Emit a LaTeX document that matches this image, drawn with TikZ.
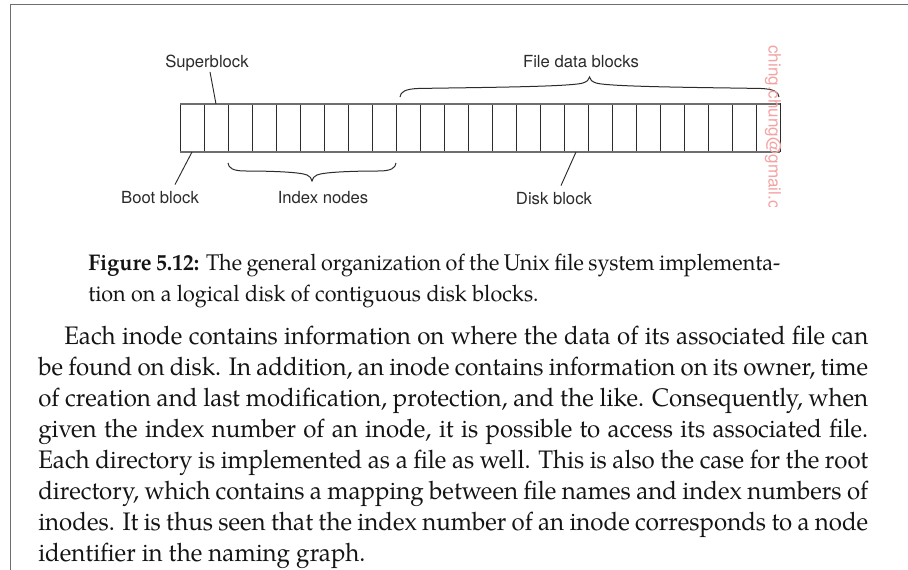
\documentclass[tikz,border=0pt]{standalone}
\usepackage{fontspec}
\setmainfont[FakeStretch=0.95]{TeX Gyre Pagella}
\newfontfamily\labfont{TeX Gyre Heros}
\usetikzlibrary{calc}
\definecolor{framegray}{HTML}{6E6E6E}
\definecolor{ink}{HTML}{2B2B2B}
\definecolor{wmark}{HTML}{F3A3A3}
\definecolor{bodyink}{HTML}{141414}
\begin{document}
\begin{tikzpicture}[x=0.75pt,y=-0.75pt,
  lab/.style={font=\labfont\fontsize{12.5pt}{14pt}\selectfont, text=ink, inner sep=0pt, anchor=base},
  cell/.style={draw=ink, line width=0.75pt, minimum width=18pt, minimum height=36pt, inner sep=0pt, outer sep=0pt},
  leader/.style={draw=ink, line width=0.7pt},
  bracepath/.style={draw=ink, line width=0.75pt},
  txt/.style={font=\fontsize{19pt}{24pt}\selectfont, inner sep=0pt, anchor=base west, text=bodyink},
  captxt/.style={font=\fontsize{17pt}{22pt}\selectfont, inner sep=0pt, anchor=base west, text=bodyink},
  wm/.style={font=\labfont\fontsize{12.8pt}{14pt}\selectfont, text=wmark, rotate=-90, anchor=west, inner sep=0pt}
  ]
\useasboundingbox (0,0) rectangle (908,570);
\fill[white] (0,0) rectangle (908,570);
\draw[framegray, line width=1.2pt] (10.5,570) -- (10.5,4.5) -- (908,4.5);

% disk blocks
\foreach \i in {1,...,25} {
  \node[cell] (c\i) at ({168+24*\i},128) {};
}
\draw[framegray, line width=1.0pt] (c1.north west) -- (c25.north east);
\draw[framegray, line width=1.0pt] (c1.south west) -- (c25.south east);

% labels
\node[lab] (super) at (207,68) {Superblock};
\node[lab] (boot) at (160,204) {Boot block};
\node[lab] (index) at (323,204) {Index nodes};
\node[lab] (fdb) at (581,68) {File data blocks};
\node[lab] (disk) at (554,205) {Disk block};

% leaders
\draw[leader] ([xshift=2.25pt]super.south) -- (c2.north);
\draw[leader] (c1.south) -- ($(boot.north)+(15,-7)$);
\draw[leader] (c17.south) -- ($(disk.north)+(7,-7)$);

% braces
\draw[bracepath] (228,163) .. controls (228.5,168) and (233,171) .. (245,171)
  .. controls (270,171) and (300,172) .. (307,175)
  .. controls (310,176.5) and (311.5,178) .. (312,181)
  .. controls (312.5,178) and (314,176.5) .. (317,175)
  .. controls (324,172) and (354,171) .. (379,171)
  .. controls (391,171) and (395.5,168) .. (396,163);
\draw[bracepath] (400,97) .. controls (400.5,92) and (405,89) .. (418,88.5)
  .. controls (470,87.5) and (570,87) .. (583,83)
  .. controls (587,81.5) and (589,80) .. (589.5,77)
  .. controls (590,80) and (592,81.5) .. (596,83)
  .. controls (609,87) and (709,87.5) .. (761,88.5)
  .. controls (774,89) and (778.5,92) .. (779,97);

% watermark
\begin{scope}
  \clip (740,30) rectangle (810,207);
  \node[wm] (mark) at (773,45) {ching.chung@gmail.c};
\end{scope}

% caption
\node[captxt] (cap1) at (88,271) {\makebox[519pt][s]{\textbf{Figure 5.12:} The general organization of the Unix file system implementa-}};
\node[captxt] (cap2) at (88,302) {tion on a logical disk of contiguous disk blocks.};

% paragraph
\node[txt] (p1) at (64,345) {\makebox[603pt][s]{Each inode contains information on where the data of its associated file can}};
\node[txt] (p2) at (38,376) {\makebox[622.5pt][s]{be found on disk. In addition, an inode contains information on its owner, time}};
\node[txt] (p3) at (38,407) {\makebox[622.5pt][s]{of creation and last modification, protection, and the like. Consequently, when}};
\node[txt] (p4) at (38,438) {\makebox[622.5pt][s]{given the index number of an inode, it is possible to access its associated file.}};
\node[txt] (p5) at (38,469) {\makebox[622.5pt][s]{Each directory is implemented as a file as well. This is also the case for the root}};
\node[txt] (p6) at (38,500) {\makebox[622.5pt][s]{directory, which contains a mapping between file names and index numbers of}};
\node[txt] (p7) at (38,531) {\makebox[622.5pt][s]{inodes. It is thus seen that the index number of an inode corresponds to a node}};
\node[txt] (p8) at (38,561.5) {identifier in the naming graph.};
\end{tikzpicture}
\end{document}
